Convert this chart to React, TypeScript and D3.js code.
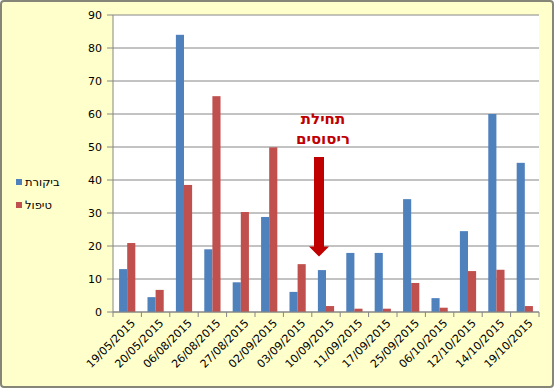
import React from "react";
import * as d3 from "d3";

const dates = [
  "19/05/2015", "20/05/2015", "06/08/2015", "26/08/2015", "27/08/2015",
  "02/09/2015", "03/09/2015", "10/09/2015", "11/09/2015", "17/09/2015",
  "25/09/2015", "06/10/2015", "12/10/2015", "14/10/2015", "19/10/2015"
];
const control = [13, 4.5, 84, 19, 9, 28.8, 6.1, 12.7, 17.9, 17.9, 34.2, 4.2, 24.5, 60, 45.2];
const treatment = [20.9, 6.7, 38.5, 65.4, 30.3, 49.9, 14.5, 1.8, 1, 1, 8.8, 1.3, 12.4, 12.8, 1.8];
const seriesNames = ["ביקורת", "טיפול"];
const seriesColors = ["#4F81BD", "#C0504D"];
const yTicks = [0, 10, 20, 30, 40, 50, 60, 70, 80, 90];
const noteLines = ["תחילת", "ריסוסים"];
const noteDate = "10/09/2015";

const W = 554;
const H = 388;
const margin = { top: 15, right: 15, bottom: 76, left: 113 };
const font = "'DejaVu Sans', Tahoma, sans-serif";

export default function App() {
  const x = d3
    .scaleBand()
    .domain(dates)
    .range([margin.left, W - margin.right]);
  const y = d3
    .scaleLinear()
    .domain([0, 90])
    .range([H - margin.bottom, margin.top]);

  const step = x.bandwidth();
  const barW = step / 3.5;
  const inner = d3
    .scaleBand()
    .domain(["0", "1"])
    .range([(step - 2 * barW) / 2, (step + 2 * barW) / 2]);

  const data = [control, treatment];
  const y0 = y(0);

  // arrow in the 10/09 band
  const ax = x(noteDate)! + step / 2 - 7;
  const arrowTop = y(47);
  const arrowTip = y(16.8);
  const headH = 10;

  // 45deg guide path for each date label, ending at the label's top right
  const labelPath = (d: string) => {
    const ex = x(d)! + step / 2 + 6;
    const ey = y0 + 9;
    return `M${ex - 70},${ey + 70} L${ex},${ey}`;
  };

  return (
    <svg
      width={W}
      height={H}
      style={{ position: "absolute", left: 0, top: 0 }}
      fontFamily={font}
    >
      <defs>
        {dates.map((d, i) => (
          <path key={d} id={"lp" + i} d={labelPath(d)} />
        ))}
      </defs>
      <rect x={1} y={1} width={W - 2} height={H - 2} rx={3} fill="#FFFFCC" stroke="#868678" strokeWidth={2} />
      <rect
        x={margin.left}
        y={margin.top}
        width={W - margin.right - margin.left}
        height={y0 - margin.top}
        fill="#fff"
      />

      {/* grid + y axis */}
      {yTicks.map(t => (
        <g key={t}>
          <line x1={margin.left - 6} x2={W - margin.right} y1={y(t)} y2={y(t)} stroke="#868686" strokeWidth={1} />
          <text x={margin.left - 11} y={y(t)} dy="0.35em" textAnchor="end" fontSize={11} fill="#000">
            {t}
          </text>
        </g>
      ))}
      <line x1={margin.left} x2={margin.left} y1={margin.top} y2={y0} stroke="#868686" />

      {/* bars */}
      {data.map((vals, si) =>
        vals.map((v, i) => (
          <rect
            key={si + "-" + i}
            x={x(dates[i])! + inner(String(si))!}
            y={y(v)}
            width={barW}
            height={y0 - y(v)}
            fill={seriesColors[si]}
          />
        ))
      )}

      {/* x axis */}
      <line x1={margin.left} x2={W - margin.right} y1={y0} y2={y0} stroke="#868686" />
      {dates.map(d => (
        <line key={d} x1={x(d)!} x2={x(d)!} y1={y0} y2={y0 + 5} stroke="#868686" />
      ))}
      <line x1={W - margin.right} x2={W - margin.right} y1={y0} y2={y0 + 5} stroke="#868686" />
      {dates.map((d, i) => (
        <text key={"l" + d} fontSize={11} fill="#000" dy="0.35em">
          <textPath href={"#lp" + i} startOffset="100%" textAnchor="end">
            {d}
          </textPath>
        </text>
      ))}

      {/* legend */}
      {seriesNames.map((n, i) => (
        <g key={n} transform={`translate(16,${182 + i * 23})`}>
          <rect x={0} y={-3} width={6} height={6} fill={seriesColors[i]} />
          <text x={9} y={0} dy="0.35em" fontSize={11.5} fill="#000">
            {n}
          </text>
        </g>
      ))}

      {/* annotation */}
      {noteLines.map((t, i) => (
        <text
          key={t}
          x={ax + 4}
          y={y(58.5) + i * 20}
          dy="0.35em"
          textAnchor="middle"
          fontSize={15}
          fontWeight="bold"
          fill="#C00000"
        >
          {t}
        </text>
      ))}
      <path
        d={`M${ax - 5},${arrowTop} L${ax + 5},${arrowTop} L${ax + 5},${arrowTip - headH} L${ax + 10},${arrowTip - headH} L${ax},${arrowTip} L${ax - 10},${arrowTip - headH} L${ax - 5},${arrowTip - headH} Z`}
        fill="#C00000"
      />
    </svg>
  );
}
